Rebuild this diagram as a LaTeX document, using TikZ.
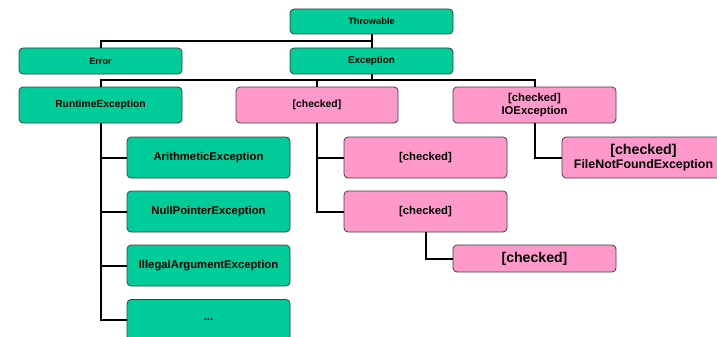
\documentclass[tikz,border=0pt]{standalone}
\usepackage{fontspec}
\setmainfont{Liberation Sans}
\definecolor{gfill}{RGB}{0,204,153}
\definecolor{pfill}{RGB}{255,153,204}
\definecolor{bord}{RGB}{64,64,64}
\begin{document}
\begin{tikzpicture}[x=1pt,y=-1pt,
  box/.style={draw=bord, line width=0.8pt, rounded corners=4pt, align=center,
    font=\bfseries, inner sep=0pt, minimum width=163pt, minimum height=41pt},
  gbox/.style={box, fill=gfill},
  pbox/.style={box, fill=pfill},
  conn/.style={line width=2pt, black}]
\useasboundingbox (0,0) rectangle (717,337);
\clip (0,0) rectangle (717,337);
\coordinate (tj) at (371.5,41);
\coordinate (ej) at (371.5,80);
\node[gbox, minimum height=25pt, font=\bfseries\fontsize{9.3}{10}\selectfont] (thr) at (371.5,21.5) {Throwable};
\node[gbox, minimum height=26pt, font=\bfseries\fontsize{9.2}{10}\selectfont] (err) at (100.5,61) {Error};
\node[gbox, minimum height=26pt, font=\bfseries\fontsize{9.8}{10}\selectfont] (exc) at (371.5,61) {Exception};
\node[gbox, minimum height=36pt, font=\bfseries\fontsize{10.3}{11}\selectfont] (rte) at (100.5,105) {RuntimeException};
\node[pbox, minimum width=162pt, minimum height=36pt, font=\bfseries\fontsize{10.4}{11}\selectfont] (chk1) at (317,105) {[checked]};
\node[pbox, minimum height=36pt, font=\bfseries\fontsize{11.3}{13}\selectfont] (ioe) at (534.5,105) {[checked]\\IOException};
\node[gbox, font=\bfseries\fontsize{11.3}{13}\selectfont] (ari) at (208.5,157.5) {ArithmeticException};
\node[gbox, font=\bfseries\fontsize{11.3}{13}\selectfont] (npe) at (208.5,211.5) {NullPointerException};
\node[gbox, font=\bfseries\fontsize{11.3}{13}\selectfont] (iae) at (208.5,265.5) {IllegalArgumentException};
\node[gbox, font=\bfseries\fontsize{11.3}{13}\selectfont, text depth=-4pt] (dots) at (208.5,320) {...};
\node[pbox, font=\bfseries\fontsize{11.3}{13}\selectfont] (chk2) at (425.5,157.5) {[checked]};
\node[pbox, font=\bfseries\fontsize{11.3}{13}\selectfont] (chk3) at (425.5,211.5) {[checked]};
\node[pbox, minimum height=27pt, font=\bfseries\fontsize{14.1}{16}\selectfont] (chk4) at (534.5,258.5) {[checked]};
\node[pbox, font=\bfseries\fontsize{12.4}{14}\selectfont] (fnf) at (643.5,157.5) {{\fontsize{14.2}{16}\selectfont [checked]}\\FileNotFoundException};
\draw[conn] (thr.south) -- (exc.north);
\draw[conn] (tj) -| (err.north);
\draw[conn] (exc.south) -- (ej);
\draw[conn] (ej) -| (rte.north);
\draw[conn] (ej) -| (chk1.north);
\draw[conn] (ej) -| (ioe.north);
\draw[conn] (rte.south) |- (ari.west);
\draw[conn] (rte.south) |- (npe.west);
\draw[conn] (rte.south) |- (iae.west);
\draw[conn] (rte.south) |- (dots.west);
\draw[conn] (chk1.south) |- (chk2.west);
\draw[conn] (chk1.south) |- (chk3.west);
\draw[conn] (chk3.south) |- (chk4.west);
\draw[conn] (ioe.south) |- (fnf.west);
\end{tikzpicture}
\end{document}
